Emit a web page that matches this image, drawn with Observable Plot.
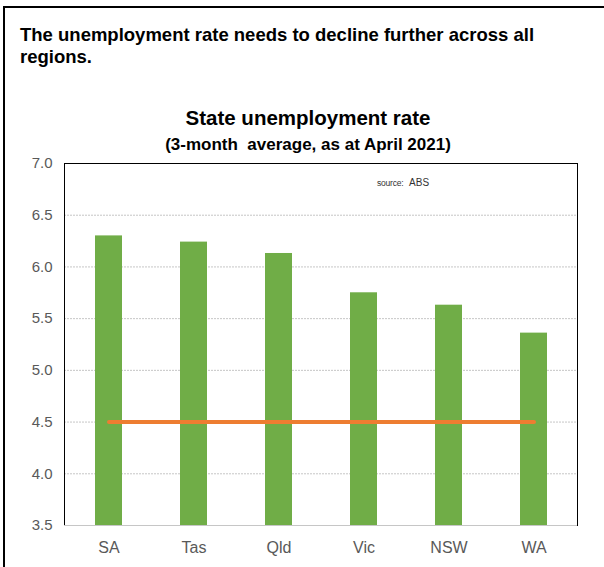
<!DOCTYPE html>
<html>
<head>
<meta charset="utf-8">
<script src="https://cdn.jsdelivr.net/npm/d3@7"></script>
<script src="https://cdn.jsdelivr.net/npm/@observablehq/plot@0.6"></script>
<style>
  body { margin: 0; background: #fff; font-family: "Liberation Sans", Arial, sans-serif; }
  #page { position: relative; width: 604px; height: 567px; overflow: hidden; background: #fff; }
  #border { position: absolute; left: 3px; top: 6px; right: -10px; bottom: -10px; border-top: 2px solid #000; border-left: 2px solid #000; }
  #heading { position: absolute; left: 20px; top: 24px; white-space: nowrap; font-weight: bold; font-size: 18.5px; line-height: 22px; color: #000; }
  #title { position: absolute; left: 0; width: 616px; top: 107px; text-align: center; font-weight: bold; font-size: 20.5px; line-height: 22px; color: #000; }
  #subtitle { position: absolute; left: 0; width: 616px; top: 135px; text-align: center; font-weight: bold; font-size: 17px; line-height: 20px; color: #000; }
  #source { position: absolute; left: 377px; top: 177px; white-space: nowrap; color: #333; font-size: 10px; line-height: 12px; }
  #source .s { font-size: 8.5px; letter-spacing: -0.2px; }
  #chart { position: absolute; left: 0; top: 150px; }
</style>
</head>
<body>
<div id="page">
  <div id="border"></div>
  <div id="heading">The unemployment rate needs to decline further across all<br>regions.</div>
  <div id="title">State unemployment rate</div>
  <div id="subtitle">(3-month&nbsp; average, as at April 2021)</div>
  <div id="chart"></div>
  <div id="source"><span class="s">source:</span>&nbsp;&nbsp;ABS</div>
</div>
<script>
const states = ["SA", "Tas", "Qld", "Vic", "NSW", "WA"];
const rates = [6.30, 6.24, 6.13, 5.75, 5.63, 5.36];
const target = 4.5;
const yTicks = [3.5, 4.0, 4.5, 5.0, 5.5, 6.0, 6.5, 7.0];
const yDomain = [3.5, 7.0];

const data = states.map((s, i) => ({state: s, rate: rates[i], target: target}));

const chart = Plot.plot({
  width: 604,
  height: 417,
  marginTop: 13,
  marginBottom: 42,
  marginLeft: 64,
  marginRight: 27,
  style: {fontFamily: "'Liberation Sans', Arial, sans-serif", background: "transparent", overflow: "visible"},
  x: {domain: states, paddingInner: 0.685, paddingOuter: 0.3425, label: null},
  y: {domain: yDomain, label: null},
  marks: [
    Plot.ruleY(yTicks.filter(v => v > yDomain[0] && v < yDomain[1]), {stroke: "#c6c6c6", strokeDasharray: "2,1"}),
    Plot.barY(data, {x: "state", y1: yDomain[0], y2: "rate", fill: "#70AD47"}),
    Plot.frame({stroke: "#000"}),
    Plot.ruleY([yDomain[0]], {stroke: "#fff"}),
    Plot.ruleY([yDomain[0]], {stroke: "#c6c6c6"}),
    Plot.lineY(data, {x: "state", y: "target", stroke: "#ED7D31", strokeWidth: 4}),
    Plot.axisY(yTicks, {tickSize: 0, tickPadding: 12, tickFormat: d3.format(".1f"), fontSize: 15, fill: "#595959", label: null}),
    Plot.axisX({tickSize: 0, tickPadding: 16, fontSize: 16, fill: "#595959", label: null})
  ]
});
document.getElementById("chart").appendChild(chart);
</script>
</body>
</html>
